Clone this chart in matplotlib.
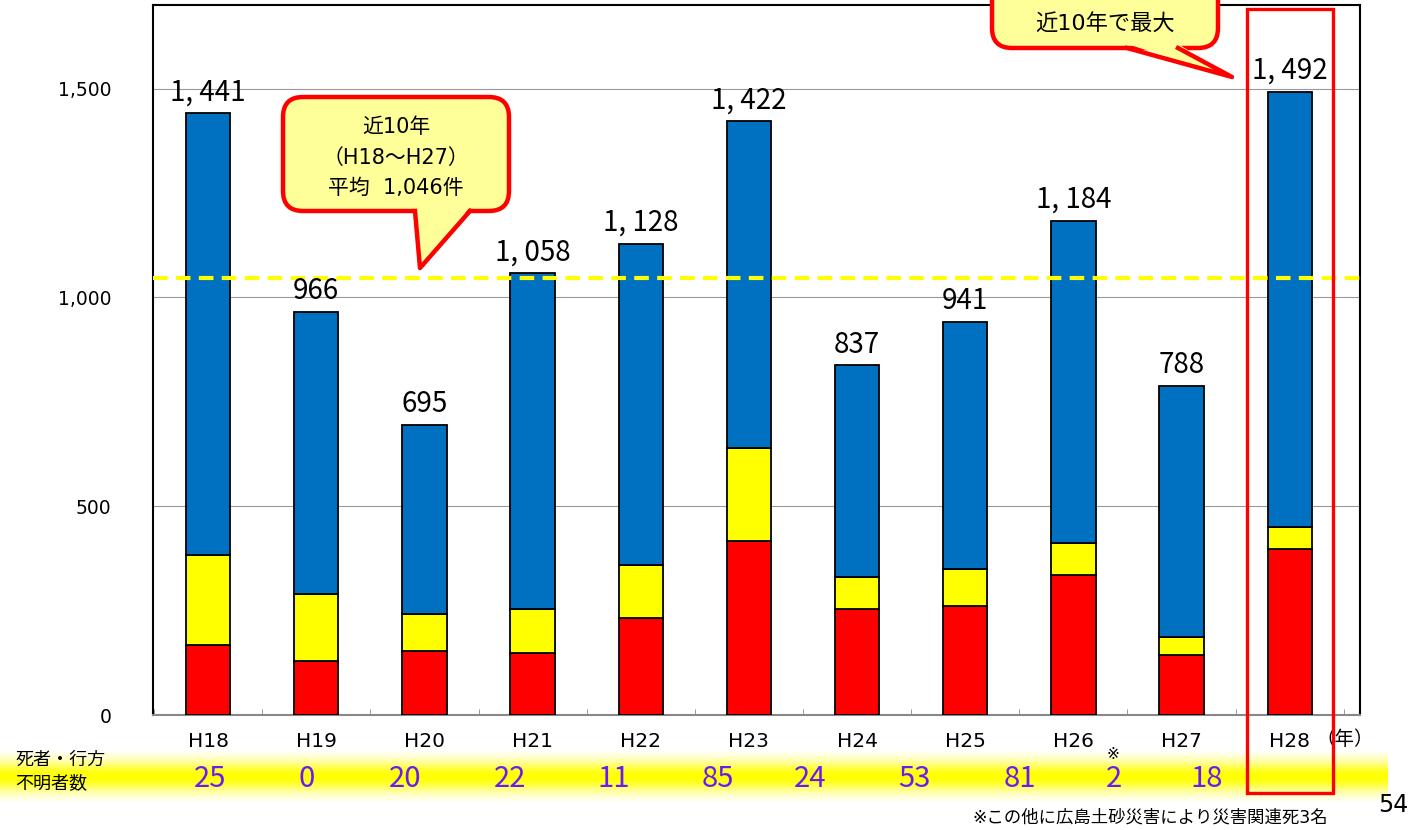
import numpy as np
import matplotlib
matplotlib.use("Agg")
import matplotlib.pyplot as plt
from matplotlib.patches import FancyBboxPatch, Polygon, Rectangle
from matplotlib import font_manager

plt.rcParams['font.family'] = ['DejaVu Sans', 'Noto Sans CJK JP']

# data
years = ['H18', 'H19', 'H20', 'H21', 'H22', 'H23', 'H24', 'H25', 'H26', 'H27', 'H28']
red_vals = [167, 129, 153, 148, 232, 416, 254, 261, 335, 144, 397]
yellow_vals = [216, 160, 89, 106, 127, 223, 76, 88, 76, 43, 53]
blue_vals = [1058, 677, 453, 804, 769, 783, 507, 592, 773, 601, 1042]
totals = [1441, 966, 695, 1058, 1128, 1422, 837, 941, 1184, 788, 1492]
total_labels = ['1, 441', '966', '695', '1, 058', '1, 128', '1, 422',
                '837', '941', '1, 184', '788', '1, 492']
avg_10yr = 1046
deaths = ['25', '0', '20', '22', '11', '85', '24', '53', '81', '2', '18']

# layout (figure pixels) for the row of death counts
deaths_x = [210, 307, 405, 510, 614, 718, 810, 914, 1020, 1114, 1207]

W, H = 1425, 830
narrow = [f for f in ['Liberation Sans Narrow'] if any(
    f == ff.name for ff in font_manager.fontManager.ttflist)]
num_family = narrow + ['Noto Sans CJK JP']

fig = plt.figure(figsize=(W / 100, H / 100), dpi=100)
ax = fig.add_axes([153 / W, 1 - 715 / H, (1360 - 153) / W, (715 - 5) / H])

x = np.arange(len(years))
bw = 0.41
ax.bar(x, red_vals, bw, color='#FF0000', edgecolor='black', linewidth=1.3, zorder=3)
ax.bar(x, yellow_vals, bw, bottom=red_vals, color='#FFFF00', edgecolor='black',
       linewidth=1.3, zorder=3)
bottom2 = np.array(red_vals) + np.array(yellow_vals)
ax.bar(x, blue_vals, bw, bottom=bottom2, color='#0070C0', edgecolor='black',
       linewidth=1.3, zorder=3)

for xi, t, lab in zip(x, totals, total_labels):
    ax.text(xi, t + 14, lab, ha='center', va='bottom', fontsize=20,
            family=num_family, color='black', zorder=5)

ax.axhline(avg_10yr, color='#FFFF00', lw=3, ls=(0, (3.5, 2)), zorder=4, clip_on=False)

ax.set_xlim(-0.51, 10.65)
ax.set_ylim(0, 1700)
ax.set_yticks([0, 500, 1000, 1500])
ax.set_yticklabels(['0', '500', '1,000', '1,500'])
ax.yaxis.grid(True, color='#999999', lw=0.8, zorder=0)
ax.set_xticks(x)
ax.set_xticklabels(years)
ax.set_xticks(np.arange(len(years) + 1) - 0.5, minor=True)
ax.tick_params(axis='y', length=0, pad=30, labelsize=13.5)
ax.tick_params(axis='x', which='major', length=0, pad=12, labelsize=14.5)
ax.tick_params(axis='x', which='minor', direction='in', length=4, color='#888888')
for s in ['left', 'top', 'right']:
    ax.spines[s].set_color('black')
    ax.spines[s].set_linewidth(1.5)
ax.spines['bottom'].set_color('#888888')
ax.spines['bottom'].set_linewidth(1.5)

# overlay for annotations, in figure pixels
ov = fig.add_axes([0, 0, 1, 1])
ov.set_xlim(0, W)
ov.set_ylim(H, 0)
ov.axis('off')

# yellow gradient band
ys = np.linspace(0, 1, 60)
alpha = np.exp(-((ys - 0.5) / 0.3) ** 2)
band = np.zeros((60, 1, 4))
band[..., 0] = 1
band[..., 1] = 1
band[..., 3] = alpha[:, None]
ov.imshow(band, extent=[0, 1388, 802, 752], aspect='auto', zorder=1)

ov.text(15, 760, '死者・行方', fontsize=13, va='center', ha='left')
ov.text(15, 783, '不明者数', fontsize=13, va='center', ha='left')
for xd, d in zip(deaths_x, deaths):
    ov.text(xd, 779, d, fontsize=21, color='#6A1BF5', ha='center', va='center',
            family=num_family, zorder=3)
ov.text(1113, 754, '※', fontsize=11, ha='center', va='center', zorder=3)
ov.text(1316, 739, '（年）', fontsize=14, ha='left', va='center')
ov.text(1393, 805, '54', fontsize=17, ha='center', va='center')
ov.text(1328, 818, '※この他に広島土砂災害により災害関連死3名', fontsize=12.5,
        ha='right', va='center')

# red frame around H28
ov.add_patch(Rectangle((1247, 9), 1333 - 1247, 793 - 9, fill=False,
                       edgecolor='#FF0000', lw=2.4, zorder=6))


def callout(x0, y0, x1, y1, base, tip, r=20):
    box = FancyBboxPatch((x0, y0), x1 - x0, y1 - y0,
                         boxstyle='round,pad=0,rounding_size=%d' % r,
                         facecolor='#FFFF99', edgecolor='#FF0000', lw=3.2, zorder=7)
    ov.add_patch(box)
    ov.add_patch(Polygon([(base[0], y1 - 4), (base[1], y1 - 4), tip],
                         closed=True, facecolor='#FFFF99', edgecolor='none', zorder=8))
    ov.plot([base[0], tip[0], base[1]], [y1, tip[1], y1], color='#FF0000',
            lw=3.2, solid_joinstyle='round', zorder=8)


callout(283, 97, 509, 211, (415, 470), (420, 268))
ov.text(396, 127, '近10年', fontsize=15, ha='center', va='center', zorder=9)
ov.text(396, 158, '（H18～H27）', fontsize=15, ha='center', va='center', zorder=9)
ov.text(396, 188, '平均  1,046件', fontsize=15, ha='center', va='center', zorder=9)

callout(992, -30, 1218, 48, (1127, 1178), (1232, 77))
ov.text(1105, 24, '近10年で最大', fontsize=16, ha='center', va='center', zorder=9)

fig.savefig('out.png', dpi=100)
